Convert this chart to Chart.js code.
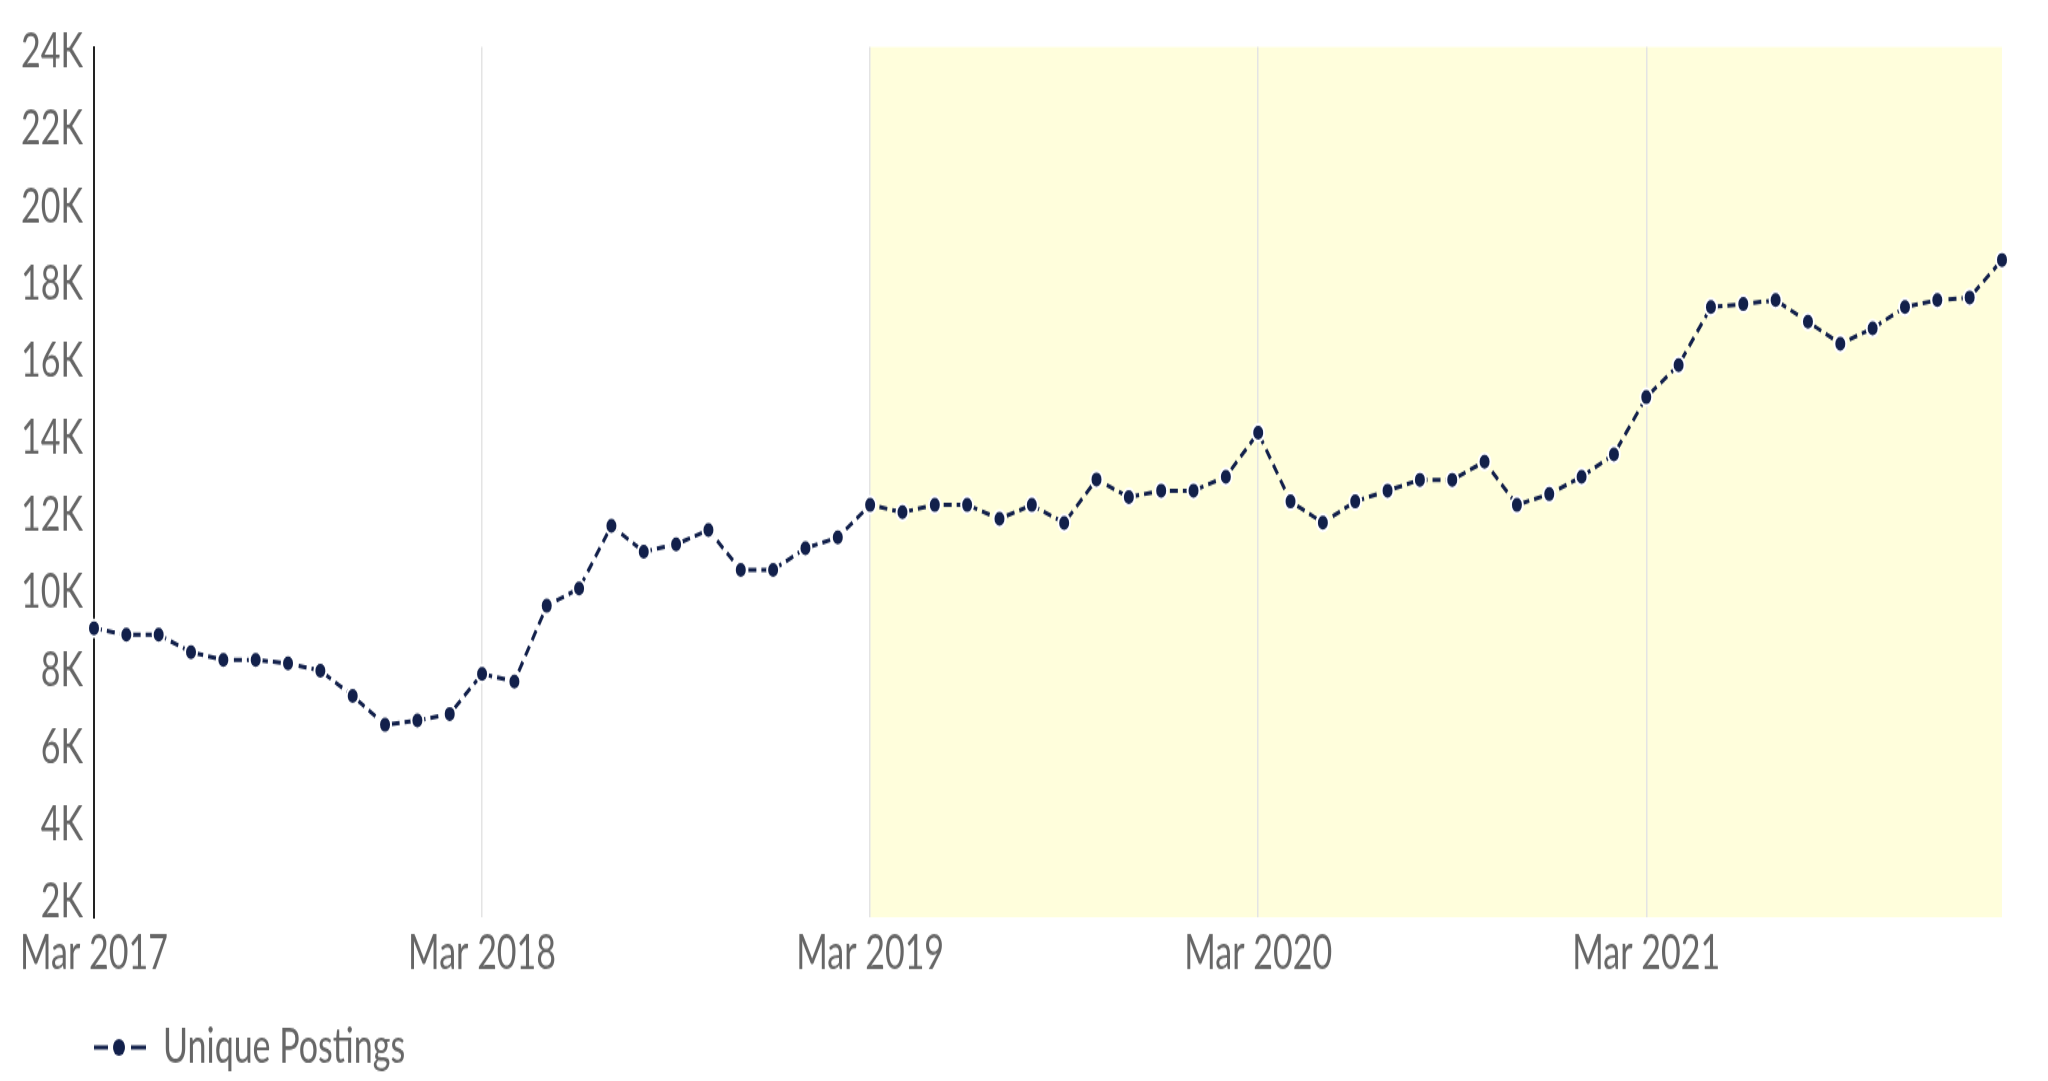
<!DOCTYPE html>
<html lang="en">
<head>
<meta charset="utf-8">
<title>Unique Postings</title>
<script src="https://cdn.jsdelivr.net/npm/chart.js@4.4.1/dist/chart.umd.min.js"></script>
<style>
  html, body { margin: 0; padding: 0; background: #ffffff; }
  #grafico { display: block; }
</style>
</head>
<body>
<!-- buffer 2048x772 shown at 2048x1081: the picture is stretched vertically like the original -->
<canvas id="grafico" width="2048" height="772" style="width:2048px;height:1081px"></canvas>
<script>
// Months (one point per month)
const meses = [
  'Mar 2017', 'Apr 2017', 'May 2017', 'Jun 2017', 'Jul 2017', 'Aug 2017', 'Sep 2017', 'Oct 2017', 'Nov 2017', 'Dec 2017',
  'Jan 2018', 'Feb 2018', 'Mar 2018', 'Apr 2018', 'May 2018', 'Jun 2018', 'Jul 2018', 'Aug 2018', 'Sep 2018', 'Oct 2018', 'Nov 2018', 'Dec 2018',
  'Jan 2019', 'Feb 2019', 'Mar 2019', 'Apr 2019', 'May 2019', 'Jun 2019', 'Jul 2019', 'Aug 2019', 'Sep 2019', 'Oct 2019', 'Nov 2019', 'Dec 2019',
  'Jan 2020', 'Feb 2020', 'Mar 2020', 'Apr 2020', 'May 2020', 'Jun 2020', 'Jul 2020', 'Aug 2020', 'Sep 2020', 'Oct 2020', 'Nov 2020', 'Dec 2020',
  'Jan 2021', 'Feb 2021', 'Mar 2021', 'Apr 2021', 'May 2021', 'Jun 2021', 'Jul 2021', 'Aug 2021', 'Sep 2021', 'Oct 2021', 'Nov 2021', 'Dec 2021',
  'Jan 2022', 'Feb 2022'
];

// Unique postings per month
const postings = [
  9090, 8920, 8920, 8470, 8270, 8270, 8180, 7990, 7340, 6590, 6700, 6870,
  7910, 7710, 9670, 10120, 11740, 11070, 11260, 11630, 10600, 10600, 11160, 11440,
  12280, 12090, 12280, 12280, 11920, 12280, 11810, 12940, 12480, 12650, 12650, 13010,
  14150, 12370, 11820, 12370, 12650, 12930, 12930, 13400, 12280, 12560, 13010, 13590,
  15070, 15900, 17400, 17480, 17580, 17020, 16450, 16850, 17400, 17580, 17650, 18620
];

// Labels shown on the x axis
const etiquetasX = ['Mar 2017', 'Mar 2018', 'Mar 2019', 'Mar 2020', 'Mar 2021'];

// Ticks of the y axis
const ticksY = [2000, 4000, 6000, 8000, 10000, 12000, 14000, 16000, 18000, 20000, 22000, 24000];

// The shaded period starts here and runs to the end
const inicioResaltado = 'Mar 2019';

const azul = '#12204b';
const gris = '#666666';

Chart.defaults.font.family = 'Lato';
Chart.defaults.font.size = 34;

// Legend symbol: dash - dot - dash
function crearIconoLeyenda() {
  const c = document.createElement('canvas');
  c.width = 52;
  c.height = 16;
  const g = c.getContext('2d');
  g.strokeStyle = azul;
  g.lineWidth = 3;
  g.beginPath();
  g.moveTo(0, 8); g.lineTo(14, 8);
  g.moveTo(37, 8); g.lineTo(52, 8);
  g.stroke();
  g.fillStyle = azul;
  g.beginPath();
  g.arc(25, 8, 6, 0, Math.PI * 2);
  g.fill();
  return c;
}

// Light yellow band behind the grid, from Mar 2019 to the right edge
const bandaResaltada = {
  id: 'bandaResaltada',
  beforeDraw(chart) {
    const { ctx, chartArea, scales } = chart;
    const x0 = scales.x.getPixelForValue(meses.indexOf(inicioResaltado));
    ctx.save();
    ctx.fillStyle = '#fffedc';
    ctx.fillRect(x0, chartArea.top, chartArea.right - x0, chartArea.bottom - chartArea.top);
    ctx.restore();
  }
};

new Chart(document.getElementById('grafico'), {
  type: 'line',
  data: {
    labels: meses,
    datasets: [{
      label: 'Unique Postings',
      data: postings,
      borderColor: azul,
      borderWidth: 3,
      borderDash: [8, 5],
      tension: 0,
      fill: false,
      clip: false,
      pointRadius: 6,
      pointBackgroundColor: azul,
      pointBorderColor: '#ffffff',
      pointBorderWidth: 2
    }]
  },
  options: {
    responsive: false,
    devicePixelRatio: 1,
    animation: false,
    layout: {
      padding: { top: 33.6, right: 46, bottom: -3, left: 0 }
    },
    plugins: {
      tooltip: { enabled: false },
      legend: {
        position: 'bottom',
        align: 'start',
        fullSize: false,
        labels: {
          usePointStyle: true,
          pointStyle: crearIconoLeyenda(),
          pointStyleWidth: 52,
          padding: 0,
          color: gris,
          font: { size: 34 }
        }
      }
    },
    scales: {
      x: {
        type: 'category',
        offset: false,
        border: { display: false },
        grid: {
          drawTicks: false,
          lineWidth: 1.5,
          color: (ctx) => (ctx.index > 0 && etiquetasX.includes(meses[ctx.index])) ? '#e4e4e4' : 'rgba(0,0,0,0)'
        },
        ticks: {
          autoSkip: false,
          maxRotation: 0,
          minRotation: 0,
          padding: 5.5,
          color: gris,
          callback: (valor, i) => etiquetasX.includes(meses[i]) ? meses[i] : ''
        },
        afterFit: (escala) => { escala.height = 76; }
      },
      y: {
        min: 1612,
        max: 24129,
        afterBuildTicks: (escala) => { escala.ticks = ticksY.map(v => ({ value: v })); },
        border: { display: true, color: '#222222', width: 2 },
        grid: { display: false, drawTicks: false },
        ticks: {
          padding: 11,
          color: gris,
          callback: (valor) => (valor / 1000) + 'K'
        },
        afterFit: (escala) => { escala.width = 94; }
      }
    }
  },
  plugins: [bandaResaltada]
});
</script>
</body>
</html>
